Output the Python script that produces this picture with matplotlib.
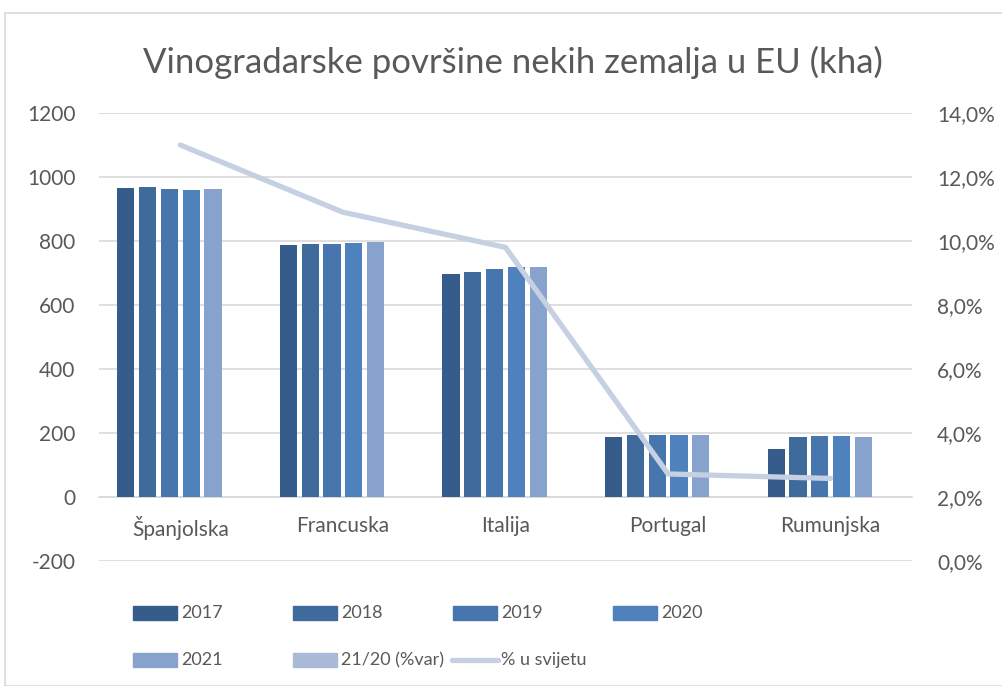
import matplotlib
matplotlib.use('Agg')
import matplotlib.pyplot as plt
from matplotlib.patches import Rectangle
from matplotlib.lines import Line2D
import numpy as np

plt.rcParams['font.family'] = ['Lato', 'DejaVu Sans']
plt.rcParams['axes.unicode_minus'] = False

countries = ['Španjolska', 'Francuska', 'Italija', 'Portugal', 'Rumunjska']
years = ['2017', '2018', '2019', '2020', '2021']
area = {
    '2017': [966, 786, 697, 188, 150],
    '2018': [970, 790, 703, 193, 188],
    '2019': [964, 792, 713, 194, 190],
    '2020': [958, 794, 719, 194, 190],
    '2021': [962, 797, 718, 194, 187],
}
var_21_20 = [0.004, 0.004, -0.001, 0.0, -0.016]   # tiny, invisible on kha scale
world_share = [13.0, 10.9, 9.8, 2.72, 2.58]     # % u svijetu

colors = ['#355C8A', '#3F6A9C', '#4775AD', '#4F81BD', '#87A2CD', '#AAB9D6']
line_color = '#C5D0E3'
txt = '#595959'
grid_c = '#D9D9D9'

W, H = 1002, 686
fig = plt.figure(figsize=(W / 100, H / 100), dpi=100)
ax = fig.add_axes([99 / W, 1 - 561 / H, 813 / W, 448 / H])
ax2 = ax.twinx()

x = np.arange(len(countries))
step = 0.134
bw = 0.106
series = [area[y] for y in years] + [var_21_20]
for i, vals in enumerate(series):
    ax.bar(x + (i - 2.5) * step, vals, width=bw, color=colors[i], zorder=3)

ax.set_xlim(-0.5, 4.5)
ax.set_ylim(-200, 1200)
ax.set_yticks(range(-200, 1201, 200))
ax.yaxis.grid(True, color=grid_c, lw=1.2, zorder=0)
ax.set_axisbelow(True)
for s in ['top', 'right', 'left']:
    ax.spines[s].set_visible(False)
ax.spines['bottom'].set_position(('data', 0))
ax.spines['bottom'].set_color(grid_c)
ax.spines['bottom'].set_linewidth(1.2)
ax.set_xticks(x)
ax.set_xticklabels(countries)
ax.tick_params(axis='x', length=0, pad=14, labelsize=15, labelcolor=txt)
ax.tick_params(axis='y', length=0, pad=17, labelsize=15, labelcolor=txt)

ax2.plot(x, world_share, color=line_color, lw=3.8, solid_capstyle='round', zorder=4)
ax2.set_ylim(0, 14)
ax2.set_yticks(range(0, 15, 2))
ax2.set_yticklabels([f'{v},0%' for v in range(0, 15, 2)])
ax2.tick_params(axis='y', length=0, pad=18, labelsize=15, labelcolor=txt)
for s in ax2.spines.values():
    s.set_visible(False)
ax.set_zorder(ax2.get_zorder() - 1)
ax.patch.set_visible(False)

fig.text(513 / W, 1 - 62 / H, 'Vinogradarske površine nekih zemalja u EU (kha)',
         ha='center', va='center', fontsize=25, color=txt)

# chart border
fig.add_artist(Rectangle((5 / W, 0), 1, 1 - 13 / H, transform=fig.transFigure,
                         fill=False, edgecolor=grid_c, lw=1.2))

# legend drawn by hand (Excel layout)
leg = [('2017', colors[0], 'bar', 133, 613), ('2018', colors[1], 'bar', 293, 613),
       ('2019', colors[2], 'bar', 453, 613), ('2020', colors[3], 'bar', 613, 613),
       ('2021', colors[4], 'bar', 133, 660), ('21/20 (%var)', colors[5], 'bar', 293, 660),
       ('% u svijetu', line_color, 'line', 452, 660)]
for label, c, kind, px, py in leg:
    if kind == 'bar':
        fig.add_artist(Rectangle((px / W, 1 - (py + 7) / H), 44 / W, 14 / H,
                                 transform=fig.transFigure, color=c))
        tx = px + 48
    else:
        fig.add_artist(Line2D([px / W, (px + 46) / W], [1 - py / H, 1 - py / H],
                              transform=fig.transFigure, color=c, lw=3.8,
                              solid_capstyle='round'))
        tx = px + 49
    fig.text(tx / W, 1 - py / H, label, ha='left', va='center', fontsize=13, color=txt)

fig.savefig('out.png', dpi=100)
